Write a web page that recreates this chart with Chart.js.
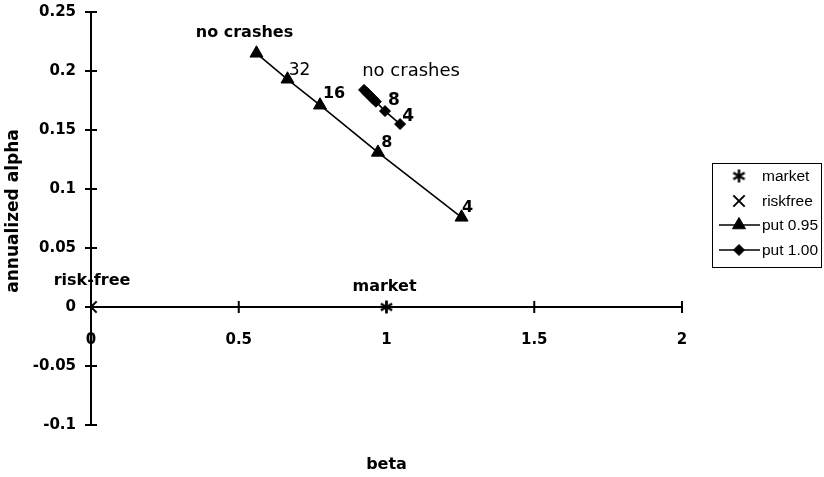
<!DOCTYPE html>
<html>
<head>
<meta charset="utf-8">
<script src="https://cdn.jsdelivr.net/npm/chart.js@4.4.1/dist/chart.umd.min.js"></script>
<style>
  html, body { margin: 0; padding: 0; background: #fff; }
  #wrap { width: 824px; height: 477px; }
</style>
</head>
<body>
<div id="wrap"><canvas id="betaAlphaChart"></canvas></div>
<script>
// Data
const marketBeta = [1];
const marketAlpha = [0];
const riskfreeBeta = [0];
const riskfreeAlpha = [0];
const put95Beta = [0.56, 0.665, 0.775, 0.971, 1.254];
const put95Alpha = [0.215, 0.193, 0.171, 0.131, 0.076];
const put95Labels = ["no crashes", "32", "16", "8", "4"];
const put100Beta = [0.924, 0.934, 0.944, 0.954, 0.964, 0.995, 1.046];
const put100Alpha = [0.184, 0.1815, 0.179, 0.1765, 0.174, 0.166, 0.155];
const put100Labels = ["no crashes", "", "", "", "", "8", "4"];
const seriesNames = ["market", "riskfree", "put 0.95", "put 1.00"];
const pointNames = ["market", "risk-free"];
const xTicks = [0, 0.5, 1, 1.5, 2];
const xTickLabels = ["0", "0.5", "1", "1.5", "2"];
const yTicks = [-0.1, -0.05, 0, 0.05, 0.1, 0.15, 0.2, 0.25];
const yTickLabels = ["-0.1", "-0.05", "0", "0.05", "0.1", "0.15", "0.2", "0.25"];

const FONT = "DejaVu Sans";
const LEGEND_FONT = "Liberation Sans";

function toPoints(xs, ys) {
  return xs.map((x, i) => ({ x: x, y: ys[i] }));
}

function tickLabel(ticks, labels, v) {
  const i = ticks.findIndex((t) => Math.abs(t - v) < 1e-9);
  return i >= 0 ? labels[i] : "";
}

// six-armed asterisk marker for the market point
function makeAsterisk(size) {
  const c = document.createElement("canvas");
  c.width = size;
  c.height = size;
  const g = c.getContext("2d");
  const r = size / 2 - 1;
  g.strokeStyle = "#000";
  g.lineWidth = 2.5;
  g.translate(size / 2, size / 2);
  for (let k = 0; k < 3; k++) {
    const a = Math.PI / 2 + (k * Math.PI) / 3;
    g.beginPath();
    g.moveTo(Math.cos(a) * r, Math.sin(a) * r);
    g.lineTo(-Math.cos(a) * r, -Math.sin(a) * r);
    g.stroke();
  }
  return c;
}
const asterisk = makeAsterisk(15);

// cross-shaped tick marks at each axis tick, x axis drawn at alpha = 0
const crossTicks = {
  id: "crossTicks",
  beforeDatasetsDraw(chart) {
    const ctx = chart.ctx;
    const xs = chart.scales.x;
    const ys = chart.scales.y;
    const y0 = ys.getPixelForValue(0);
    const x0 = xs.getPixelForValue(0);
    ctx.save();
    ctx.strokeStyle = "#000";
    ctx.lineWidth = 2;
    xTicks.forEach((t) => {
      const px = xs.getPixelForValue(t);
      ctx.beginPath();
      ctx.moveTo(px, y0 - 6);
      ctx.lineTo(px, y0 + 6);
      ctx.stroke();
    });
    yTicks.forEach((t) => {
      const py = ys.getPixelForValue(t);
      ctx.beginPath();
      ctx.moveTo(x0 - 6, py);
      ctx.lineTo(x0 + 6, py);
      ctx.stroke();
    });
    ctx.restore();
  },
};

// text next to individual points
const pointLabels = {
  id: "pointLabels",
  afterDatasetsDraw(chart, args, opts) {
    const ctx = chart.ctx;
    ctx.save();
    ctx.fillStyle = "#000";
    ctx.textAlign = "center";
    ctx.textBaseline = "middle";
    opts.items.forEach((it) => {
      if (!it.text) return;
      const el = chart.getDatasetMeta(it.ds).data[it.i];
      ctx.font = it.font;
      ctx.fillText(it.text, el.x + it.dx, el.y + it.dy);
    });
    ctx.restore();
  },
};

// axis titles and boxed legend on the right
const frame = {
  id: "frame",
  afterDraw(chart) {
    const ctx = chart.ctx;
    const area = chart.chartArea;
    ctx.save();
    ctx.fillStyle = "#000";
    ctx.font = "bold 16px " + FONT;
    ctx.textAlign = "center";
    ctx.textBaseline = "middle";
    ctx.fillText("beta", (area.left + area.right) / 2, 465);
    ctx.font = "bold 17px " + FONT;
    ctx.translate(14, 211);
    ctx.rotate(-Math.PI / 2);
    ctx.fillText("annualized alpha", 0, 0);
    ctx.restore();

    // legend
    ctx.save();
    ctx.strokeStyle = "#000";
    ctx.lineWidth = 1;
    ctx.strokeRect(712.5, 163.5, 109, 104);
    ctx.font = "15.5px " + LEGEND_FONT;
    ctx.textAlign = "left";
    ctx.textBaseline = "middle";
    const rows = [176, 201, 225, 250];
    chart.data.datasets.forEach((ds, i) => {
      const cy = rows[i];
      ctx.strokeStyle = "#000";
      ctx.fillStyle = "#000";
      if (ds.showLine) {
        ctx.lineWidth = 1.5;
        ctx.beginPath();
        ctx.moveTo(719, cy);
        ctx.lineTo(760, cy);
        ctx.stroke();
      }
      ctx.lineWidth = ds.pointBorderWidth;
      Chart.helpers.drawPoint(
        ctx,
        {
          pointStyle: ds.pointStyle,
          radius: ds.pointRadius,
          borderWidth: ds.pointBorderWidth,
          rotation: 0,
        },
        739,
        cy
      );
      ctx.fillText(ds.label, 762, cy + 1);
    });
    ctx.restore();
  },
};

const chartCtx = document.getElementById("betaAlphaChart");

new Chart(chartCtx, {
  type: "scatter",
  data: {
    datasets: [
      {
        label: seriesNames[0],
        data: toPoints(marketBeta, marketAlpha),
        pointStyle: asterisk,
        pointRadius: 7,
        pointBorderWidth: 2,
        borderColor: "#000",
        backgroundColor: "#000",
      },
      {
        label: seriesNames[1],
        data: toPoints(riskfreeBeta, riskfreeAlpha),
        pointStyle: "crossRot",
        pointRadius: 8,
        pointBorderWidth: 2,
        borderColor: "#000",
        backgroundColor: "#000",
      },
      {
        label: seriesNames[2],
        data: toPoints(put95Beta, put95Alpha),
        showLine: true,
        borderWidth: 1.6,
        pointStyle: "triangle",
        pointRadius: 7.5,
        pointBorderWidth: 1,
        borderColor: "#000",
        backgroundColor: "#000",
      },
      {
        label: seriesNames[3],
        data: toPoints(put100Beta, put100Alpha),
        showLine: true,
        borderWidth: 1.6,
        pointStyle: "rectRot",
        pointRadius: 5.5,
        pointBorderWidth: 1,
        borderColor: "#000",
        backgroundColor: "#000",
      },
    ],
  },
  options: {
    responsive: true,
    maintainAspectRatio: false,
    animation: false,
    layout: {
      padding: { left: 0, right: 142, top: 12, bottom: 52 },
    },
    plugins: {
      legend: { display: false },
      tooltip: { enabled: false },
      pointLabels: {
        items: [
          { ds: 0, i: 0, text: pointNames[0], dx: -2, dy: -20, font: "bold 16px " + FONT },
          { ds: 1, i: 0, text: pointNames[1], dx: 1, dy: -26, font: "bold 16px " + FONT },
          { ds: 2, i: 0, text: put95Labels[0], dx: -12, dy: -20, font: "bold 16px " + FONT },
          { ds: 2, i: 1, text: put95Labels[1], dx: 12, dy: -9, font: "17px " + FONT },
          { ds: 2, i: 2, text: put95Labels[2], dx: 14, dy: -11, font: "bold 16px " + FONT },
          { ds: 2, i: 3, text: put95Labels[3], dx: 9, dy: -10, font: "bold 16px " + FONT },
          { ds: 2, i: 4, text: put95Labels[4], dx: 6, dy: -9, font: "bold 16px " + FONT },
          { ds: 3, i: 0, text: put100Labels[0], dx: 47, dy: -19, font: "18px " + FONT },
          { ds: 3, i: 5, text: put100Labels[5], dx: 9, dy: -11, font: "bold 17px " + FONT },
          { ds: 3, i: 6, text: put100Labels[6], dx: 8, dy: -8, font: "bold 17px " + FONT },
        ],
      },
    },
    scales: {
      x: {
        type: "linear",
        position: { y: 0 },
        min: 0,
        max: 2,
        grid: { display: false, drawTicks: false },
        border: { display: true, color: "#000", width: 2 },
        ticks: {
          stepSize: 0.5,
          padding: 24,
          color: "#000",
          font: { family: FONT, size: 15, weight: "bold" },
          callback: (v) => tickLabel(xTicks, xTickLabels, v),
        },
      },
      y: {
        type: "linear",
        position: "left",
        min: -0.1,
        max: 0.25,
        grid: { display: false, drawTicks: false },
        border: { display: true, color: "#000", width: 2 },
        afterFit: (scale) => {
          scale.width = 91;
          scale.paddingTop = 0;
          scale.paddingBottom = 0;
        },
        ticks: {
          stepSize: 0.05,
          padding: 15,
          color: "#000",
          font: { family: FONT, size: 15, weight: "bold" },
          callback: (v) => tickLabel(yTicks, yTickLabels, v),
        },
      },
    },
  },
  plugins: [crossTicks, pointLabels, frame],
});
</script>
</body>
</html>
